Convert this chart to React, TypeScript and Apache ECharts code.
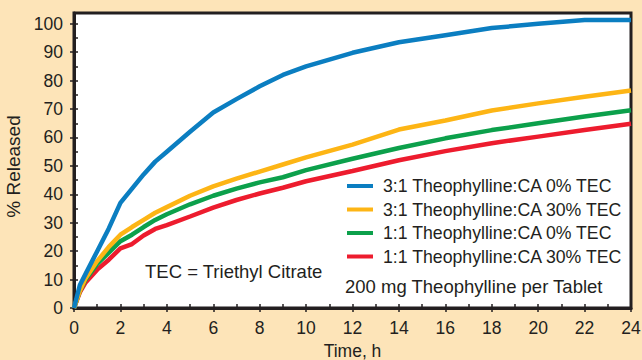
import React, { useEffect, useRef } from "react";
import * as echarts from "echarts";

const times = [0, 0.25, 0.5, 1, 1.5, 2, 2.5, 3, 3.5, 4, 5, 6, 7, 8, 9, 10, 12, 14, 16, 18, 20, 22, 24];
const blue31_0 = [0, 8, 12, 20, 28, 37, 42, 47, 51.5, 55, 62, 68.8, 73.5, 78, 82, 85, 89.8, 93.5, 96, 98.5, 100, 101.3, 101.3];
const yellow31_30 = [0, 6, 10.5, 16.5, 21.5, 25.8, 28.5, 31, 33.5, 35.5, 39.5, 42.8, 45.5, 48, 50.5, 53, 57.5, 62.8, 66, 69.5, 72, 74.3, 76.5];
const green11_0 = [0, 6, 10, 15.5, 19.5, 23.5, 25.8, 28.5, 31, 33, 36.5, 39.5, 42, 44.2, 46, 48.5, 52.5, 56.3, 59.7, 62.6, 65, 67.4, 69.6];
const red11_30 = [0, 5.5, 9, 13.5, 17, 21, 22.5, 25.5, 27.8, 29.2, 32.2, 35.3, 38, 40.3, 42.3, 44.6, 48.2, 52, 55.2, 58, 60.3, 62.6, 64.8];

const seriesNames = [
  "3:1 Theophylline:CA 0% TEC",
  "3:1 Theophylline:CA 30% TEC",
  "1:1 Theophylline:CA 0% TEC",
  "1:1 Theophylline:CA 30% TEC",
];
const seriesValues = [blue31_0, yellow31_30, green11_0, red11_30];
const seriesColors = ["#0b7ec1", "#fdb515", "#0ca04b", "#ed1c2e"];

const xTicks = [0, 2, 4, 6, 8, 10, 12, 14, 16, 18, 20, 22, 24];
const xMinorTicks = [0, 1, 2, 3, 4, 5, 6, 7, 8, 9, 10, 11, 12, 13, 14, 15, 16, 17, 18, 19, 20, 21, 22, 23, 24];
const yTicks = [0, 10, 20, 30, 40, 50, 60, 70, 80, 90, 100];
const yMinorTicks = [0, 5, 10, 15, 20, 25, 30, 35, 40, 45, 50, 55, 60, 65, 70, 75, 80, 85, 90, 95, 100];

const textColor = "#231f20";
const font = "'Liberation Sans', Arial, sans-serif";

export default function App() {
  const ref = useRef<HTMLDivElement>(null);
  useEffect(() => {
    if (!ref.current) return;
    const chart = echarts.init(ref.current, null, { renderer: "svg" });
    const gridPos = { left: 74, right: 11, top: 13, bottom: 52, outerBoundsMode: "none", containLabel: false };
    const yMax = 103.8;
    chart.setOption({
      animation: false,
      backgroundColor: "#fde4b8",
      textStyle: { fontFamily: font, color: textColor },
      grid: [
        { ...gridPos, show: true, backgroundColor: "#ffffff", borderColor: textColor, borderWidth: 3 },
        { ...gridPos, show: false },
      ],
      xAxis: [
        {
          type: "value",
          gridIndex: 0,
          min: 0,
          max: 24,
          interval: 2,
          name: "Time, h",
          nameLocation: "middle",
          nameGap: 33,
          nameTextStyle: { fontSize: 17.5, color: textColor, fontFamily: font },
          axisLine: { show: true, lineStyle: { color: textColor, width: 3 } },
          axisTick: { show: true, inside: false, length: 4, lineStyle: { color: textColor, width: 1.5 }, customValues: xTicks },
          axisLabel: { fontSize: 17.5, color: textColor, margin: 11, fontFamily: font, customValues: xTicks },
          splitLine: { show: false },
        },
        {
          type: "value",
          gridIndex: 1,
          min: 0,
          max: 24,
          interval: 1,
          axisLine: { show: false },
          axisTick: { show: true, inside: true, length: 4, lineStyle: { color: textColor, width: 1.5 }, customValues: xMinorTicks },
          axisLabel: { show: false },
          splitLine: { show: false },
        },
      ],
      yAxis: [
        {
          type: "value",
          gridIndex: 0,
          min: 0,
          max: yMax,
          interval: 10,
          name: "% Released",
          nameLocation: "middle",
          nameGap: 47,
          nameTextStyle: { fontSize: 19, color: textColor, fontFamily: font, padding: [0, 12, 0, 0] },
          axisLine: { show: true, lineStyle: { color: textColor, width: 3 } },
          axisTick: { show: true, inside: false, length: 4, lineStyle: { color: textColor, width: 1.5 }, customValues: yTicks },
          axisLabel: { fontSize: 17.5, color: textColor, margin: 11, fontFamily: font, customValues: yTicks },
          splitLine: { show: false },
        },
        {
          type: "value",
          gridIndex: 1,
          min: 0,
          max: yMax,
          interval: 5,
          axisLine: { show: false },
          axisTick: { show: true, inside: true, length: 4, lineStyle: { color: textColor, width: 1.5 }, customValues: yMinorTicks },
          axisLabel: { show: false },
          splitLine: { show: false },
        },
      ],
      legend: {
        orient: "vertical",
        left: 347,
        top: 176,
        padding: 0,
        itemGap: 3.5,
        itemWidth: 26,
        itemHeight: 4,
        icon: "rect",
        textStyle: { fontSize: 17.7, color: textColor, fontFamily: font, lineHeight: 20, padding: [0, 0, 0, 5] },
        data: seriesNames,
      },
      series: seriesNames.map((name, i) => ({
        name,
        type: "line",
        xAxisIndex: 0,
        yAxisIndex: 0,
        data: times.map((t, j) => [t, seriesValues[i][j]]),
        showSymbol: false,
        symbol: "none",
        lineStyle: { color: seriesColors[i], width: 4.5 },
        itemStyle: { color: seriesColors[i] },
        z: 2 + (seriesNames.length - i),
      })),
      graphic: [
        {
          type: "text",
          left: 145,
          top: 262,
          style: { text: "TEC = Triethyl Citrate", fontSize: 18.5, fill: textColor, fontFamily: font },
        },
        {
          type: "text",
          left: 345,
          top: 277,
          style: { text: "200 mg Theophylline per Tablet", fontSize: 18.5, fill: textColor, fontFamily: font },
        },
      ],
    });
    return () => chart.dispose();
  }, []);
  return <div ref={ref} style={{ position: "fixed", left: 0, top: 0, width: 642, height: 360 }} />;
}
